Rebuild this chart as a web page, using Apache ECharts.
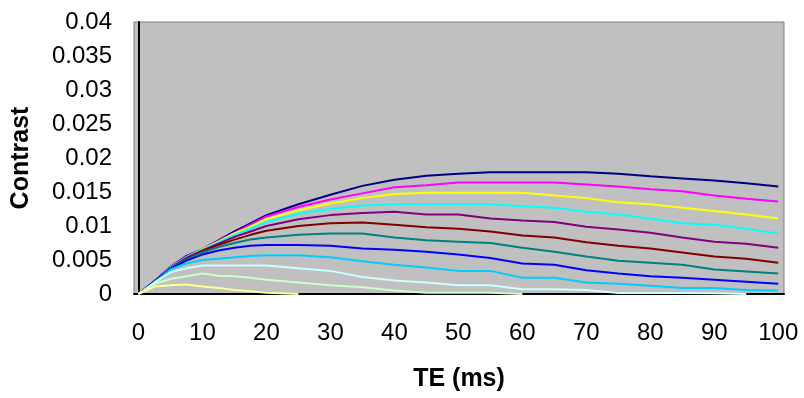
<!DOCTYPE html>
<html><head><meta charset="utf-8">
<script src="https://cdn.jsdelivr.net/npm/echarts@6/dist/echarts.min.js"></script>
<style>html,body{margin:0;padding:0;background:#fff}#c{width:804px;height:398px}</style>
</head><body><div id="c"></div>
<script>
// TE (ms) sample points
const te = [0, 2.5, 5, 7.5, 10, 12.5, 15, 17.5, 20, 25, 30, 35, 40, 45, 50, 55, 60, 65, 70, 75, 80, 85, 90, 95, 100];
const xTickLabels = [0, 10, 20, 30, 40, 50, 60, 70, 80, 90, 100];

// Contrast values (null = line ends)
const sNavy      = [0, 0.0019, 0.0040, 0.0056, 0.0066, 0.0079, 0.0092, 0.0104, 0.0116, 0.0132, 0.0146, 0.0159, 0.0168, 0.0174, 0.0177, 0.0179, 0.0179, 0.0179, 0.0179, 0.0177, 0.0173, 0.0170, 0.0167, 0.0163, 0.0158];
const sMagenta   = [0, 0.0018, 0.0040, 0.0055, 0.0066, 0.0078, 0.0090, 0.0102, 0.0114, 0.0128, 0.0139, 0.0148, 0.0157, 0.0160, 0.0164, 0.0164, 0.0164, 0.0164, 0.0161, 0.0158, 0.0154, 0.0151, 0.0145, 0.0140, 0.0136];
const sYellow    = [0, 0.0018, 0.0039, 0.0054, 0.0066, 0.0077, 0.0089, 0.0099, 0.0110, 0.0123, 0.0133, 0.0141, 0.0147, 0.0149, 0.0149, 0.0149, 0.0149, 0.0145, 0.0141, 0.0135, 0.0132, 0.0127, 0.0122, 0.0117, 0.0111];
const sCyan      = [0, 0.0018, 0.0039, 0.0054, 0.0065, 0.0076, 0.0087, 0.0096, 0.0106, 0.0118, 0.0125, 0.0130, 0.0132, 0.0132, 0.0132, 0.0132, 0.0129, 0.0127, 0.0121, 0.0117, 0.0111, 0.0104, 0.0102, 0.0096, 0.0089];
const sPurple    = [0, 0.0018, 0.0038, 0.0053, 0.0064, 0.0074, 0.0084, 0.0092, 0.0100, 0.0110, 0.0116, 0.0119, 0.0121, 0.0117, 0.0117, 0.0111, 0.0108, 0.0106, 0.0099, 0.0095, 0.0090, 0.0083, 0.0077, 0.0074, 0.0068];
const sMaroon    = [0, 0.0018, 0.0038, 0.0052, 0.0063, 0.0072, 0.0080, 0.0087, 0.0093, 0.0100, 0.0104, 0.0105, 0.0102, 0.0098, 0.0096, 0.0092, 0.0086, 0.0083, 0.0076, 0.0071, 0.0067, 0.0061, 0.0055, 0.0052, 0.0046];
const sTeal      = [0, 0.0018, 0.0038, 0.0051, 0.0061, 0.0069, 0.0075, 0.0080, 0.0083, 0.0087, 0.0089, 0.0089, 0.0083, 0.0079, 0.0077, 0.0075, 0.0068, 0.0062, 0.0055, 0.0049, 0.0046, 0.0043, 0.0036, 0.0033, 0.0030];
const sBlue      = [0, 0.0018, 0.0037, 0.0049, 0.0058, 0.0064, 0.0068, 0.0071, 0.0072, 0.0072, 0.0071, 0.0067, 0.0065, 0.0062, 0.0058, 0.0053, 0.0045, 0.0043, 0.0035, 0.0030, 0.0026, 0.0024, 0.0021, 0.0018, 0.0015];
const sSky       = [0, 0.0017, 0.0036, 0.0045, 0.0050, 0.0052, 0.0054, 0.0056, 0.0057, 0.0057, 0.0054, 0.0048, 0.0043, 0.0039, 0.0034, 0.0034, 0.0024, 0.0024, 0.0017, 0.0015, 0.0012, 0.0009, 0.0009, 0.0006, 0.0005];
const sTurquoise = [0, 0.0017, 0.0032, 0.0038, 0.0042, 0.0042, 0.0042, 0.0042, 0.0042, 0.0038, 0.0034, 0.0025, 0.0020, 0.0017, 0.0013, 0.0013, 0.0007, 0.0007, 0.0006, 0.00015, 0.00015, 0.00015, 0.0001, 0, null];
const sLtGreen   = [0, 0.0015, 0.0022, 0.0026, 0.0030, 0.0027, 0.0026, 0.0024, 0.0021, 0.0017, 0.0013, 0.0010, 0.0005, 0.0002, 0.0002, 0.0002, 0, null, null, null, null, null, null, null, null];
const sLtYellow  = [0, 0.0011, 0.0013, 0.0014, 0.0011, 0.0009, 0.0006, 0.0004, 0.0002, 0, null, null, null, null, null, null, null, null, null, null, null, null, null, null, null];

const seriesList = [
  ['Navy', sNavy, '#000080'],
  ['Magenta', sMagenta, '#FF00FF'],
  ['Yellow', sYellow, '#FFFF00'],
  ['Cyan', sCyan, '#00FFFF'],
  ['Purple', sPurple, '#800080'],
  ['Maroon', sMaroon, '#800000'],
  ['Teal', sTeal, '#008080'],
  ['Blue', sBlue, '#0000FF'],
  ['Sky', sSky, '#00CCFF'],
  ['Turquoise', sTurquoise, '#CCFFFF'],
  ['LtGreen', sLtGreen, '#CCFFCC'],
  ['LtYellow', sLtYellow, '#FFFF99']
];

const FONT = "'Liberation Sans', Arial, sans-serif";
const chart = echarts.init(document.getElementById('c'), null, {renderer: 'canvas'});
chart.setOption({
  animation: false,
  backgroundColor: '#ffffff',
  grid: {
    left: 134, right: 20, top: 22, bottom: 104,
    show: true, backgroundColor: '#C0C0C0', borderColor: '#808080', borderWidth: 1
  },
  xAxis: {
    type: 'value', min: -0.7, max: 100.9,
    name: 'TE (ms)', nameLocation: 'middle', nameGap: 73,
    nameTextStyle: {fontFamily: FONT, fontSize: 25, fontWeight: 'bold', color: '#000'},
    axisLine: {show: true, onZero: false, lineStyle: {color: '#000', width: 2}},
    axisTick: {show: false},
    splitLine: {show: false},
    axisLabel: {customValues: xTickLabels, margin: 27, fontFamily: FONT, fontSize: 24, color: '#000'}
  },
  yAxis: {
    type: 'value', min: 0, max: 0.04, interval: 0.005,
    name: 'Contrast', nameLocation: 'middle', nameGap: 100,
    nameTextStyle: {fontFamily: FONT, fontSize: 25, fontWeight: 'bold', color: '#000'},
    axisLine: {show: true, lineStyle: {color: '#000', width: 2}},
    axisTick: {show: false},
    splitLine: {show: false},
    axisLabel: {margin: 22, fontFamily: FONT, fontSize: 24, color: '#000'}
  },
  series: seriesList.map(([name, vals, color]) => ({
    name, type: 'line', showSymbol: false, clip: true,
    lineStyle: {color, width: 2}, itemStyle: {color},
    data: te.map((t, i) => [t, vals[i]])
  }))
});
</script></body></html>
